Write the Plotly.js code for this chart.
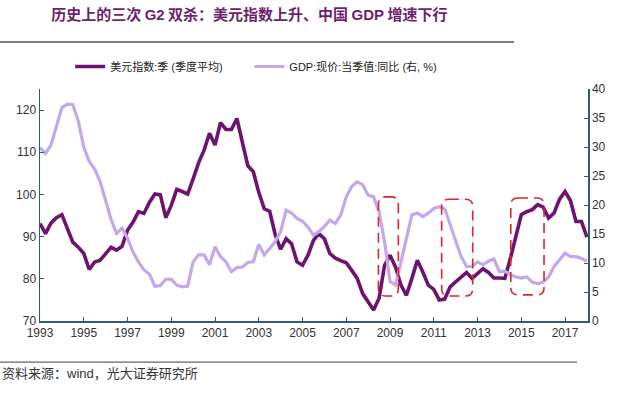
<!DOCTYPE html>
<html>
<head>
<meta charset="utf-8">
<script src="https://cdn.plot.ly/plotly-3.0.1.min.js"></script>
<style>html,body{margin:0;padding:0;background:#fff}#chart{width:640px;height:397px}</style>
</head>
<body>
<div id="chart"></div>
<script>
// Quarterly series, 1993Q1 .. 2018Q1
const startYear = 1993;
const usdIndex = [
  93.1, 90.7, 93.2, 94.5, 95.2, 92.2, 88.7, 87.5, 86.0, 82.2,
  84.0, 84.4, 86.0, 87.5, 86.8, 87.7, 91.5, 93.4, 95.9, 95.5,
  98.1, 100.1, 99.9, 94.5, 97.4, 101.2, 100.7, 100.1, 103.7, 107.5,
  110.5, 114.5, 111.7, 117.0, 115.4, 115.4, 118.0, 112.3, 106.8, 105.4,
  100.5, 96.6, 96.0, 90.5, 87.0, 89.5, 88.3, 84.0, 83.2, 85.6,
  89.1, 90.7, 89.5, 86.0, 84.9, 84.3, 83.8, 82.0, 80.1, 76.5,
  74.7, 72.6, 75.4, 83.2, 85.6, 82.8, 78.5, 76.1, 80.1, 84.4,
  81.6, 78.5, 77.5, 75.0, 75.2, 78.1, 79.3, 80.4, 81.5, 80.1,
  81.2, 82.4, 81.5, 80.2, 80.2, 80.1, 84.8, 90.3, 95.2, 95.9,
  96.4, 97.6, 97.0, 94.4, 95.6, 98.9, 100.7, 98.5, 93.6, 93.6,
  89.9
];
const gdpYoY = [
  29.9, 28.9, 30.3, 33.8, 36.8, 37.4, 37.3, 34.5, 30.0, 27.5,
  26.2, 24.0, 20.8, 17.5, 15.1, 16.0, 14.3, 11.9, 10.2, 8.8,
  8.1, 6.0, 6.1, 7.2, 7.2, 6.2, 5.9, 6.0, 10.2, 11.4,
  11.4, 9.7, 12.8, 11.1, 10.2, 8.5, 9.2, 9.3, 10.1, 10.2,
  13.2, 11.4, 12.5, 13.7, 15.4, 19.1, 18.6, 17.7, 17.2, 16.2,
  14.8, 15.4, 16.3, 17.4, 16.8, 18.3, 21.4, 23.2, 24.0, 23.5,
  21.7, 21.4, 18.8, 13.7, 6.8, 6.2, 10.2, 14.3, 18.3, 18.6,
  18.0, 18.6, 19.4, 19.7, 19.3, 16.6, 13.7, 11.1, 9.4, 9.4,
  10.2, 9.7, 10.3, 10.7, 8.5, 8.6, 8.0, 7.6, 7.4, 7.6,
  6.7, 6.4, 6.7, 7.6, 9.4, 10.5, 11.7, 11.1, 11.1, 10.8,
  10.3
];
const xTickVals = [1993, 1995, 1997, 1999, 2001, 2003, 2005, 2007, 2009, 2011, 2013, 2015, 2017];
const leftTicks = [70, 80, 90, 100, 110, 120];
const rightTicks = [0, 5, 10, 15, 20, 25, 30, 35, 40];
// "double kill" highlight boxes: [startYear, endYear, lowRight, highRight]
const boxes = [
  [2008.47, 2009.38, 4.3, 21.4],
  [2011.36, 2012.78, 4.3, 21.0],
  [2014.52, 2016.04, 4.5, 21.2]
];
const nameUSD = '美元指数:季 (季度平均)';
const nameGDP = 'GDP:现价:当季值:同比 (右, %)';

const quarters = usdIndex.map((_, i) => startYear + i * 0.25);

function roundedPath(b) {
  const [x0, x1, y0, y1] = b;
  const rx = 0.33, ry = 1.25;
  return `M${x0 + rx},${y1} L${x1 - rx},${y1} Q${x1},${y1} ${x1},${y1 - ry} ` +
         `L${x1},${y0 + ry} Q${x1},${y0} ${x1 - rx},${y0} L${x0 + rx},${y0} ` +
         `Q${x0},${y0} ${x0},${y0 + ry} L${x0},${y1 - ry} Q${x0},${y1} ${x0 + rx},${y1} Z`;
}

const axisColor = '#2F5C7E';
const sans = 'Liberation Sans, Arial, Noto Sans CJK SC, sans-serif';

const traces = [
  {
    x: quarters, y: usdIndex, name: nameUSD, type: 'scatter', mode: 'lines',
    line: {color: '#6E1470', width: 3.6}, yaxis: 'y', legend: 'legend'
  },
  {
    x: quarters, y: gdpYoY, name: nameGDP, type: 'scatter', mode: 'lines',
    line: {color: '#C4A8EC', width: 3.2}, yaxis: 'y2', legend: 'legend2'
  }
];

const shapes = boxes.map(b => ({
  type: 'path', xref: 'x', yref: 'y2', path: roundedPath(b),
  line: {color: '#D8262C', width: 1.6, dash: '10px,6px'}, layer: 'above'
}));
shapes.push({type: 'line', xref: 'paper', yref: 'paper', x0: -0.073, x1: 0.865, y0: 1.2026, y1: 1.2026,
  line: {color: '#555', width: 1.5}});
shapes.push({type: 'line', xref: 'paper', yref: 'paper', x0: -0.073, x1: 0.98, y0: -0.177, y1: -0.177,
  line: {color: '#666', width: 1.2}});

const legendCommon = {
  orientation: 'h', xanchor: 'left', y: 1.097, yanchor: 'middle',
  font: {family: sans, size: 11, color: '#222'},
  itemwidth: 30, bgcolor: 'rgba(0,0,0,0)'
};

const layout = {
  width: 640, height: 397,
  margin: {l: 40, r: 52, t: 89, b: 76},
  paper_bgcolor: '#ffffff', plot_bgcolor: '#ffffff',
  showlegend: true,
  title: {
    text: '<b>历史上的三次 <span style="font-family:Liberation Sans, Arial">G2</span> 双杀：美元指数上升、中国 <span style="font-family:Liberation Sans, Arial">GDP</span> 增速下行</b>',
    font: {family: 'Noto Sans CJK SC, sans-serif', size: 15, color: '#6E1F6E'},
    x: 0.382, xref: 'paper', xanchor: 'center', y: 0.962, yanchor: 'middle'
  },
  legend: Object.assign({}, legendCommon, {x: 0.055}),
  legend2: Object.assign({}, legendCommon, {x: 0.382}),
  xaxis: {
    range: [1993, 2018.05], tickvals: xTickVals, ticktext: xTickVals.map(String),
    showline: true, linecolor: axisColor, linewidth: 2, ticks: 'inside', ticklen: 4,
    tickcolor: axisColor, showgrid: false, zeroline: false,
    tickfont: {family: sans, size: 12, color: '#333'}
  },
  yaxis: {
    range: [70, 125], tickvals: leftTicks,
    showline: true, linecolor: axisColor, linewidth: 1.5, ticks: 'inside', ticklen: 4,
    tickcolor: axisColor, showgrid: false, zeroline: false,
    tickfont: {family: sans, size: 12, color: '#333'}
  },
  yaxis2: {
    range: [0, 40], tickvals: rightTicks, overlaying: 'y', side: 'right',
    showline: true, linecolor: axisColor, linewidth: 1.5, ticks: 'inside', ticklen: 4,
    tickcolor: axisColor, showgrid: false, zeroline: false,
    tickfont: {family: sans, size: 12, color: '#333'}
  },
  shapes: shapes,
  annotations: [{
    xref: 'paper', yref: 'paper', x: -0.073, y: -0.224, xanchor: 'left', yanchor: 'middle',
    text: '资料来源：<span style="font-family:Liberation Sans, Arial">wind</span>，光大证券研究所',
    showarrow: false, font: {family: 'Noto Sans CJK SC, sans-serif', size: 13, color: '#333'}
  }]
};

Plotly.newPlot('chart', traces, layout, {displayModeBar: false, staticPlot: true});
</script>
</body>
</html>
